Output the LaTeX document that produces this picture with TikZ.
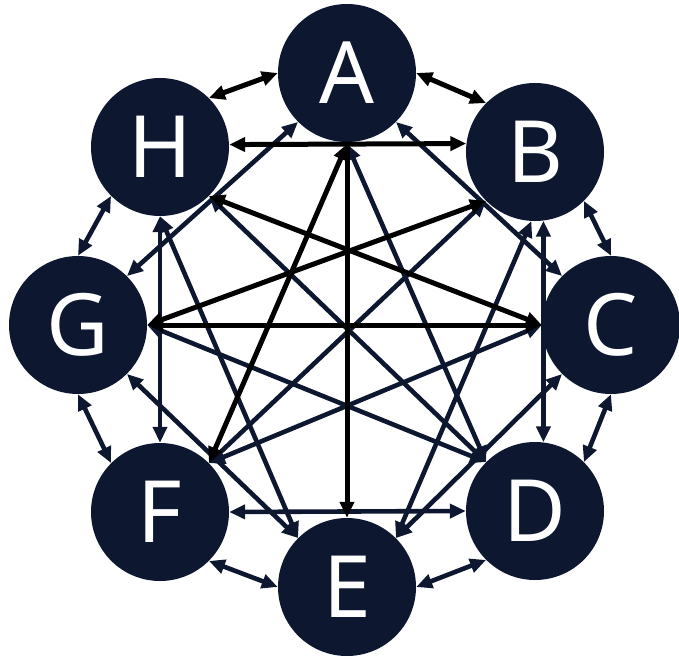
\documentclass[tikz,border=0pt]{standalone}
\usepackage{fontspec}
\setmainfont{Noto Sans}
\usetikzlibrary{arrows.meta}
\definecolor{navy}{RGB}{13,23,48}
\begin{document}
\begin{tikzpicture}[x=1pt,y=-1pt,
  >={Triangle[length=16pt,width=14pt]},
  vtx/.style={circle, fill=navy, minimum size=138pt, inner sep=0pt, text=white,
    font=\fontsize{86}{86}\selectfont},
  blk/.style={draw=black, line width=5pt},
  nvy/.style={draw=navy, line width=4.6pt}]
\useasboundingbox (0,0) rectangle (679,658);
\node[vtx] (A) at (347,73) {A};
\node[vtx] (B) at (535,152) {B};
\node[vtx] (C) at (611,325) {C};
\node[vtx] (D) at (535,511) {D};
\node[vtx] (E) at (347,587) {E};
\node[vtx] (F) at (160,512) {F};
\node[vtx] (G) at (78,325) {G};
\node[vtx] (H) at (160,147) {H};
\coordinate (JA) at (347,144);
% outer ring
\draw[nvy,<->] (B.-45) -- (C.90);
\draw[nvy,<->] (C.-90) -- (D.45);
\draw[nvy,<->] (D.225) -- (E.0);
\draw[nvy,<->] (E.180) -- (F.-45);
\draw[nvy,<->] (F.135) -- (G.-90);
\draw[nvy,<->] (G.90) -- (H.225);
\draw[blk,<->] (H.45) -- (A.180);
\draw[blk,<->] (A.0) -- (B.135);
% inner navy edges
\draw[nvy,<->] (H.-90) -- (F.90);
\draw[nvy,<->] (B.-83.3) -- (D.83.3);
\draw[nvy,<->] (F.0) -- (D.180);
\draw[nvy,<->] (JA) -- (D.135);
\draw[nvy,<->] (A.225) -- (G.45);
\draw[nvy,<->] (A.-45) -- (C.135);
\draw[nvy,<->] (C.225) -- (E.45);
\draw[nvy,<->] (E.135) -- (G.-45);
\draw[nvy,<->] (G.0) -- (D.135);
\draw[nvy,<->] (H.-45) -- (D.135);
\draw[nvy,<->] (H.-90) -- (E.135);
\draw[nvy,<->] (F.45) -- (B.225);
\draw[nvy,<->] (F.45) -- (C.180);
\draw[nvy,<->] (E.45) -- (B.-93);
% inner black edges
\draw[blk,<->] (H.2.5) -- (B.173.3);
\draw[blk,<->] (G.0) -- (C.180);
\draw[blk,->] (JA) -- (E.90);
\draw[blk,<->] (JA) -- (F.45);
\draw[blk,<->] (G.0) -- (B.225);
\draw[blk,<->] (H.-45) -- (C.180);
\end{tikzpicture}
\end{document}
